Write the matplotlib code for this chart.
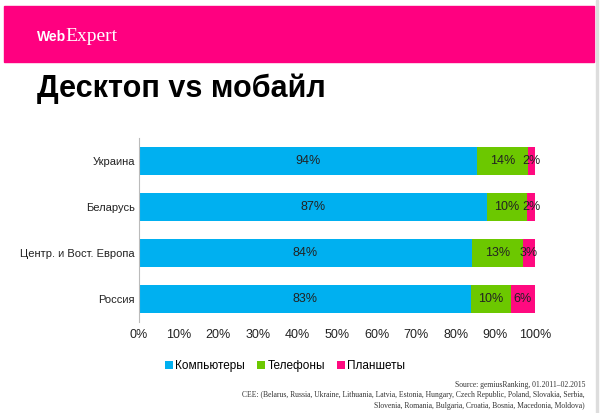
import numpy as np
import matplotlib
matplotlib.use("Agg")
import matplotlib.pyplot as plt
from matplotlib.patches import Rectangle

# data (raw shares, bars are normalised to 100%)
countries = ["Украина", "Беларусь", "Центр. и Вост. Европа", "Россия"]
computers = [94, 87, 84, 83]
phones = [14, 10, 13, 10]
tablets = [2, 2, 3, 6]
series_names = ["Компьютеры", "Телефоны", "Планшеты"]
colors = ["#00B0F0", "#6CC800", "#FF0A80"]
xticks = np.arange(0, 101, 10)

plt.rcParams['font.family'] = ['Liberation Sans', 'DejaVu Sans']

fig = plt.figure(figsize=(6, 4.13), dpi=100)

# pink header banner
fig.patches.append(Rectangle((4 / 600, 1 - 62 / 413), 590 / 600, 56 / 413,
                             transform=fig.transFigure, color="#FF0080", zorder=0))
fig.patches.append(Rectangle((596 / 600, 0), 1.5 / 600, 1,
                             transform=fig.transFigure, color="#DDDDDD", zorder=0))
fig.text(37 / 600, 1 - 41 / 413, "Web", color="white", fontsize=10, fontweight="bold",
         va="baseline", ha="left")
fig.text(65 / 600, 1 - 41 / 413, "Expert", color="white", fontsize=14,
         family="Liberation Serif", va="baseline", ha="left")

fig.text(37 / 600, 1 - 89 / 413, "Десктоп vs мобайл", fontsize=22, fontweight="bold",
         va="center", ha="left")

ax = fig.add_axes([139 / 600, 1 - 322 / 413, 396 / 600, 184 / 413])

vals = np.array([computers, phones, tablets], dtype=float)
totals = vals.sum(axis=0)
shares = vals / totals * 100
y = np.arange(len(countries))
left = np.zeros(len(countries))
for i in range(3):
    ax.barh(y, shares[i], left=left, height=0.6, color=colors[i], label=series_names[i])
    for j in range(len(countries)):
        ax.text(left[j] + shares[i][j] / 2, y[j], f"{int(vals[i][j])}%",
                ha="center", va="center", fontsize=9, color="#222222")
    left += shares[i]

ax.set_ylim(-0.5, 3.5)
ax.invert_yaxis()
ax.set_xlim(0, 100)
ax.set_yticks(y)
ax.set_yticklabels(countries, fontsize=8, color="#222222")
ax.set_xticks(xticks)
ax.set_xticklabels([f"{t}%" for t in xticks], fontsize=9, color="#222222")
ax.tick_params(length=0, pad=3)
ax.tick_params(axis="x", pad=5)
for s in ["top", "right", "bottom"]:
    ax.spines[s].set_visible(False)
ax.spines["left"].set_color("#BBBBBB")

fig.legend(loc="center", bbox_to_anchor=(285 / 600, 1 - 366 / 413), ncol=3, frameon=False,
           fontsize=8.5, handlelength=0.7, handleheight=0.7, handletextpad=0.2,
           columnspacing=1.0)

fig.text(585 / 600, 1 - 385 / 413, "Source: gemiusRanking, 01.2011–02.2015",
         family="Liberation Serif", fontsize=5.5, ha="right", va="center", color="#333333")
fig.text(585 / 600, 1 - 395 / 413,
         "CEE: (Belarus, Russia, Ukraine, Lithuania, Latvia, Estonia, Hungary, Czech Republic, Poland, Slovakia, Serbia,",
         family="Liberation Serif", fontsize=5.5, ha="right", va="center", color="#333333")
fig.text(585 / 600, 1 - 406 / 413,
         "Slovenia, Romania, Bulgaria, Croatia, Bosnia, Macedonia, Moldova)",
         family="Liberation Serif", fontsize=5.5, ha="right", va="center", color="#333333")

fig.savefig("out.png", dpi=100)
